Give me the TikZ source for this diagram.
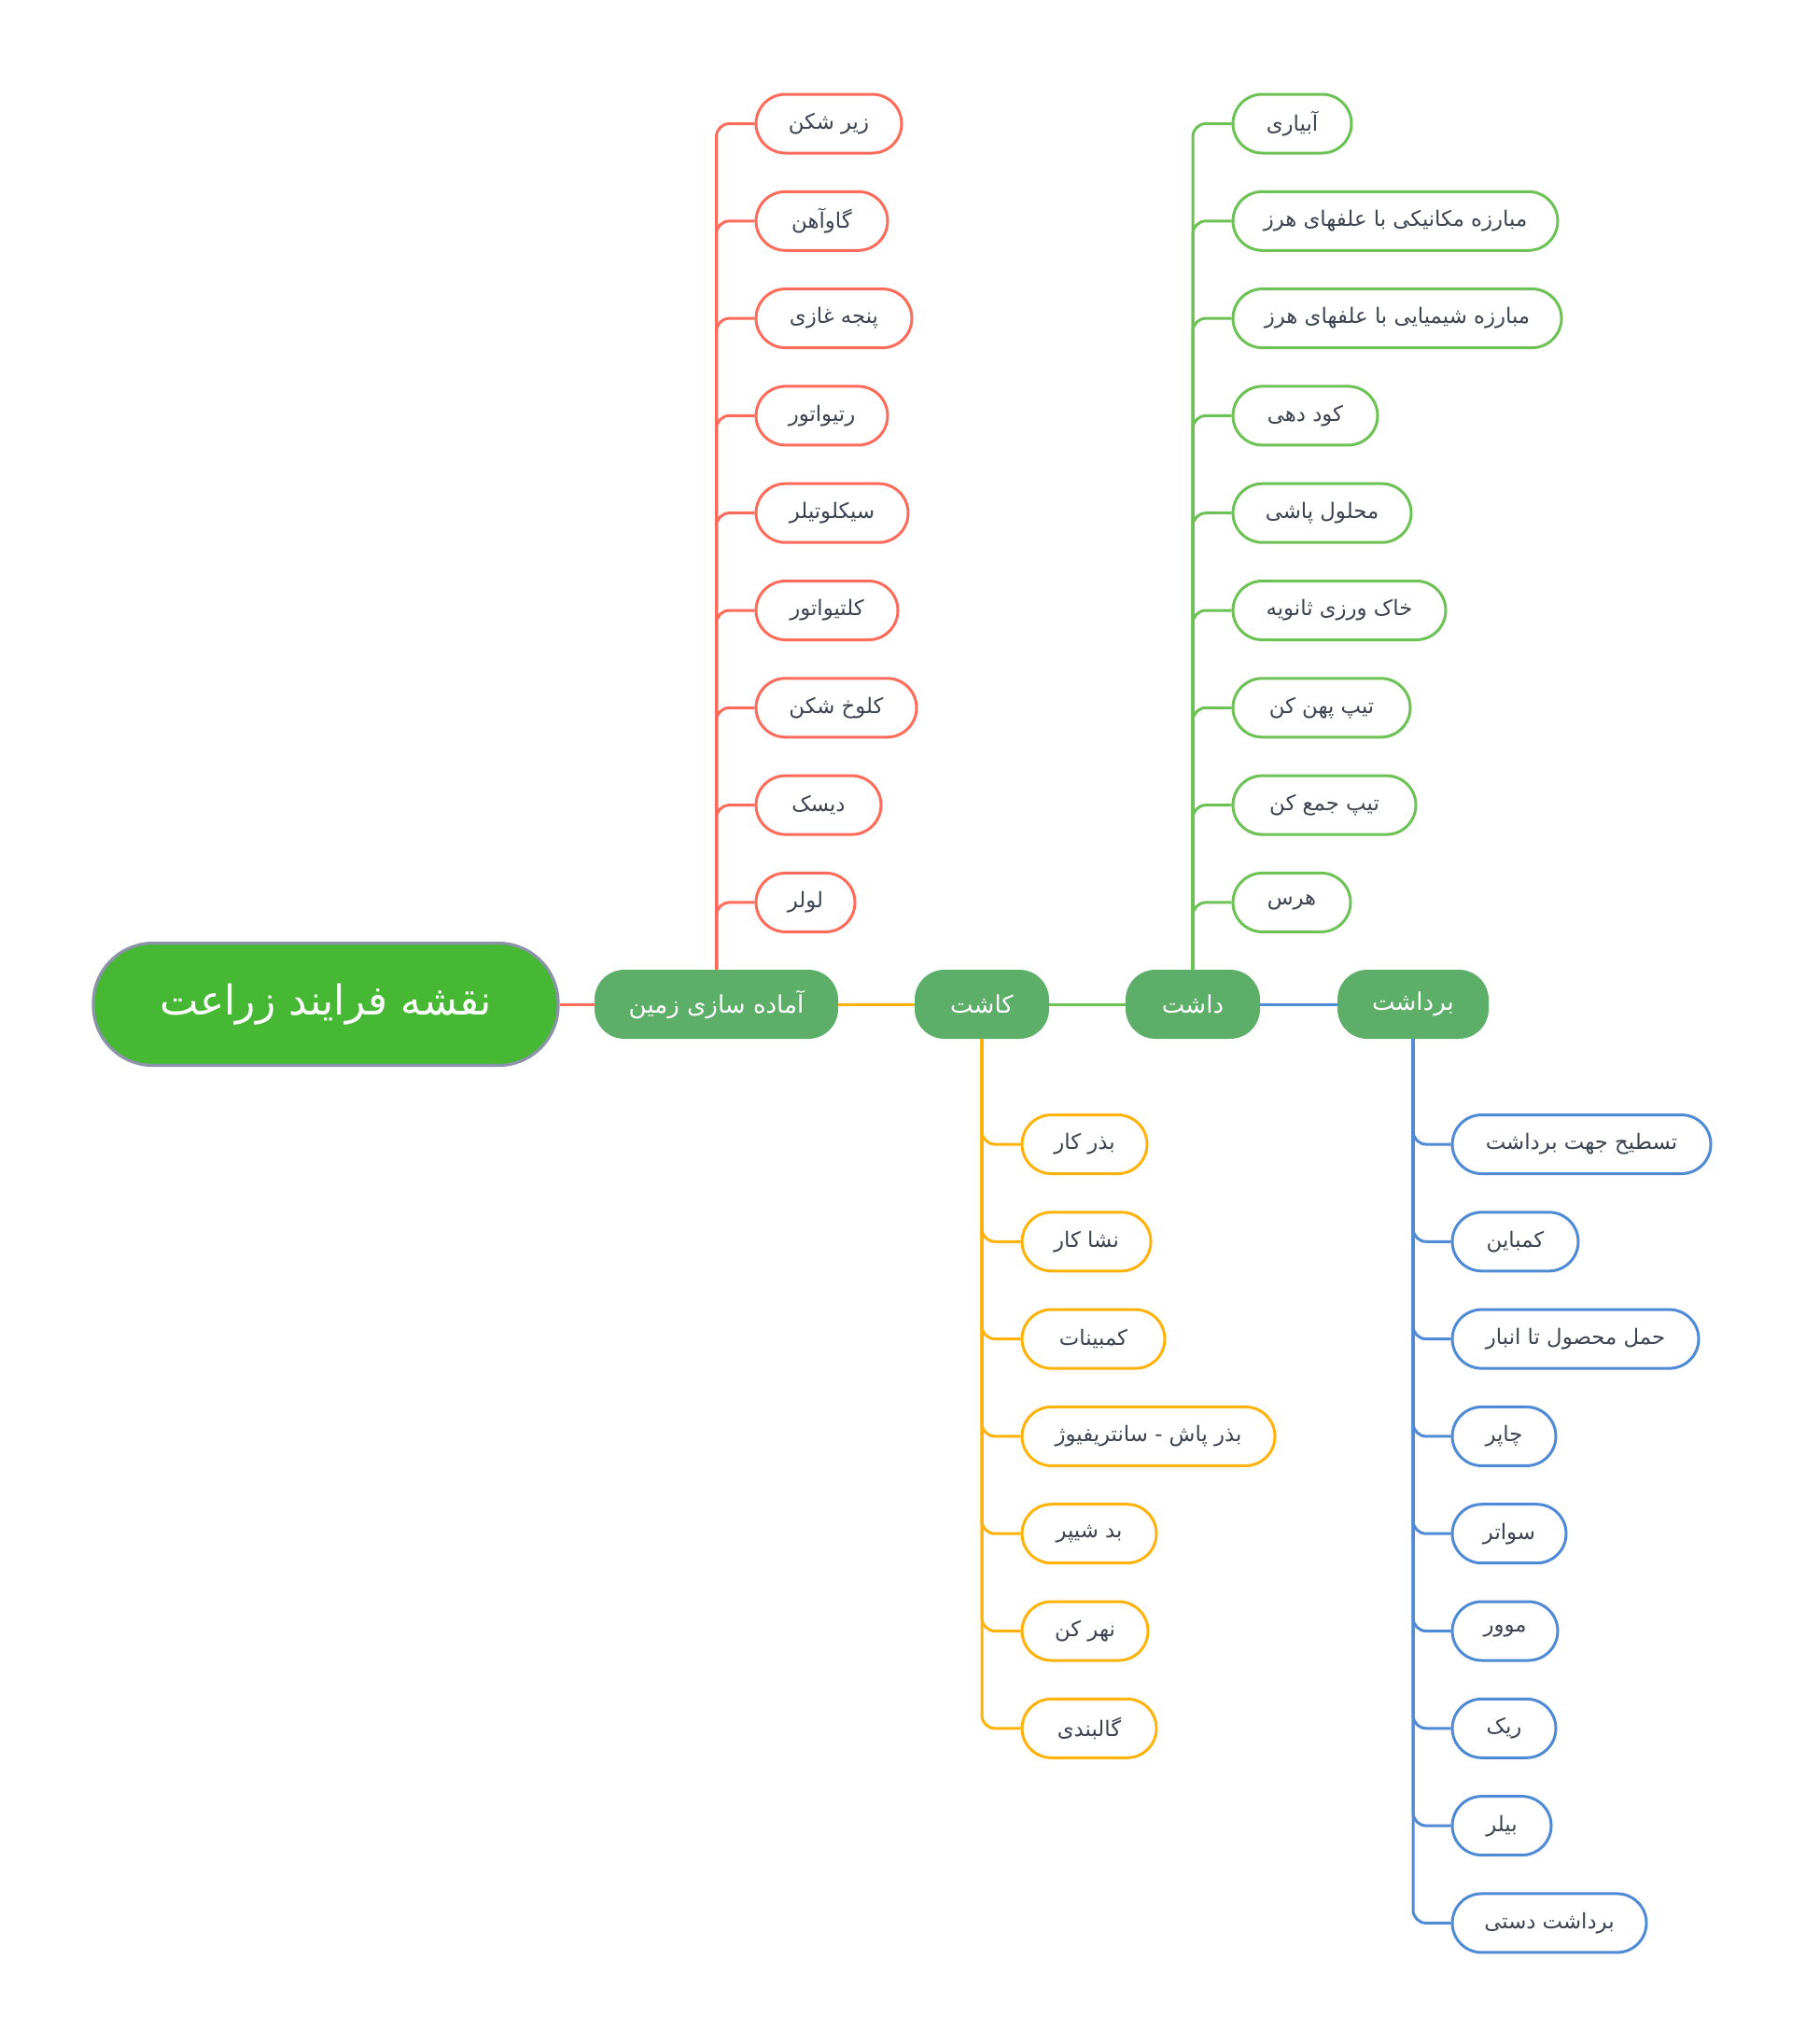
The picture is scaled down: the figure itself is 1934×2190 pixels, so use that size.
\documentclass[tikz,border=0pt]{standalone}
\usepackage{fontspec}
\TeXXeTstate=1
\newfontfamily\arabicfont[Script=Arabic]{DejaVu Sans}
\newcommand\rtl[1]{\beginR #1\endR}
\definecolor{cRed}{RGB}{255,107,90}
\definecolor{cGreen}{RGB}{108,194,84}
\definecolor{cYellow}{RGB}{255,178,10}
\definecolor{cBlue}{RGB}{79,138,214}
\definecolor{cMain}{RGB}{92,174,104}
\definecolor{cRoot}{RGB}{70,184,51}
\definecolor{cRootEdge}{RGB}{138,147,168}
\definecolor{cText}{RGB}{61,68,81}
\begin{document}
\begin{tikzpicture}[x=0.5pt,y=-0.5pt,
  leaf/.style={draw, line width=1.5pt, fill=white, rounded corners=15.75pt,
    minimum height=31.5pt, inner sep=0pt, text=cText,
    font=\arabicfont\fontsize{11.4}{13}\selectfont},
  rleaf/.style={leaf, draw=cRed},
  gleaf/.style={leaf, draw=cGreen},
  yleaf/.style={leaf, draw=cYellow},
  bleaf/.style={leaf, draw=cBlue},
  mainbox/.style={fill=cMain, rounded corners=16pt, minimum height=37pt,
    inner sep=0pt, text=white, font=\arabicfont\fontsize{13}{15}\selectfont},
  rootbox/.style={fill=cRoot, draw=cRootEdge, line width=1.6pt, rounded corners=32pt,
    minimum height=65.5pt, minimum width=249pt, inner sep=0pt, text=white,
    font=\arabicfont\fontsize{22}{26}\selectfont},
  link/.style={line width=1.5pt},
  twig/.style={line width=1.5pt, rounded corners=7pt},
]
\useasboundingbox (0,0) rectangle (1934,2190);

% central spine
\node[rootbox] (root) at (349,1076) {\rtl{نقشه فرایند زراعت}};
\node[mainbox, minimum width=130.5pt] (prep) at (767.5,1076) {\rtl{آماده سازی زمین}};
\node[mainbox, minimum width=72pt] (plant) at (1052,1076) {\rtl{کاشت}};
\node[mainbox, minimum width=72pt] (care) at (1278,1076) {\rtl{داشت}};
\node[mainbox, minimum width=81pt] (harv) at (1514,1076) {\rtl{برداشت}};

\draw[link, cRed] (root.east) -- (prep.west);
\draw[link, cYellow] (prep.east) -- (plant.west);
\draw[link, cGreen] (plant.east) -- (care.west);
\draw[link, cBlue] (care.east) -- (harv.west);

% land preparation
\node[rleaf, minimum width=78pt]   (r1) at (888,132.5)   {\rtl{زیر شکن}};
\node[rleaf, minimum width=70.5pt] (r2) at (880.5,236.8) {\rtl{گاوآهن}};
\node[rleaf, minimum width=83.5pt] (r3) at (893.5,341.1) {\rtl{پنجه غازی}};
\node[rleaf, minimum width=70.5pt] (r4) at (880.5,445.4) {\rtl{رتیواتور}};
\node[rleaf, minimum width=81.5pt] (r5) at (891.5,549.7) {\rtl{سیکلوتیلر}};
\node[rleaf, minimum width=76pt]   (r6) at (886,654)     {\rtl{کلتیواتور}};
\node[rleaf, minimum width=86pt]   (r7) at (896,758.3)   {\rtl{کلوخ شکن}};
\node[rleaf, minimum width=67pt]   (r8) at (877,862.6)   {\rtl{دیسک}};
\node[rleaf, minimum width=53pt]   (r9) at (863,966.9)   {\rtl{لولر}};
\foreach \n in {r1,r2,r3,r4,r5,r6,r7,r8,r9}
  \draw[twig, cRed] (prep.north) |- (\n.west);

% crop care
\node[gleaf, minimum width=63.5pt] (g1) at (1384.5,132.5) {\rtl{آبیاری}};
\node[gleaf, minimum width=174pt]  (g2) at (1495,236.8)   {\rtl{مبارزه مکانیکی با علفهای هرز}};
\node[gleaf, minimum width=176pt]  (g3) at (1497,341.1)   {\rtl{مبارزه شیمیایی با علفهای هرز}};
\node[gleaf, minimum width=77.5pt] (g4) at (1398.5,445.4) {\rtl{کود دهی}};
\node[gleaf, minimum width=95.5pt] (g5) at (1416.5,549.7) {\rtl{محلول پاشی}};
\node[gleaf, minimum width=114pt]  (g6) at (1435,654)     {\rtl{خاک ورزی ثانویه}};
\node[gleaf, minimum width=95pt]   (g7) at (1416,758.3)   {\rtl{تیپ پهن کن}};
\node[gleaf, minimum width=98pt]   (g8) at (1419,862.6)   {\rtl{تیپ جمع کن}};
\node[gleaf, minimum width=63pt]   (g9) at (1384,966.9)   {\rtl{هرس}};
\foreach \n in {g1,g2,g3,g4,g5,g6,g7,g8,g9}
  \draw[twig, cGreen] (care.north) |- (\n.west);

% planting
\node[yleaf, minimum width=67pt]   (y1) at (1162,1226)   {\rtl{بذر کار}};
\node[yleaf, minimum width=69pt]   (y2) at (1164,1330.3) {\rtl{نشا کار}};
\node[yleaf, minimum width=76.5pt] (y3) at (1171.5,1434.6) {\rtl{کمبینات}};
\node[yleaf, minimum width=135.5pt] (y4) at (1230.5,1538.9) {\rtl{بذر پاش - سانتریفیوژ}};
\node[yleaf, minimum width=72pt]   (y5) at (1167,1643.2) {\rtl{بد شیپر}};
\node[yleaf, minimum width=67.5pt] (y6) at (1162.5,1747.5) {\rtl{نهر کن}};
\node[yleaf, minimum width=72pt]   (y7) at (1167,1851.8) {\rtl{گالبندی}};
\foreach \n in {y1,y2,y3,y4,y5,y6,y7}
  \draw[twig, cYellow] (plant.south) |- (\n.west);

% harvest
\node[bleaf, minimum width=138.5pt] (b1) at (1694.5,1226)   {\rtl{تسطیح جهت برداشت}};
\node[bleaf, minimum width=67.5pt]  (b2) at (1623.5,1330.3) {\rtl{کمباین}};
\node[bleaf, minimum width=132pt]   (b3) at (1688,1434.6)   {\rtl{حمل محصول تا انبار}};
\node[bleaf, minimum width=55.5pt]  (b4) at (1611.5,1538.9) {\rtl{چاپر}};
\node[bleaf, minimum width=61pt]    (b5) at (1617,1643.2)   {\rtl{سواتر}};
\node[bleaf, minimum width=56.5pt]  (b6) at (1612.5,1747.5) {\rtl{موور}};
\node[bleaf, minimum width=55.5pt]  (b7) at (1611.5,1851.8) {\rtl{ریک}};
\node[bleaf, minimum width=53pt]    (b8) at (1609,1956.1)   {\rtl{بیلر}};
\node[bleaf, minimum width=104pt]   (b9) at (1660,2060.4)   {\rtl{برداشت دستی}};
\foreach \n in {b1,b2,b3,b4,b5,b6,b7,b8,b9}
  \draw[twig, cBlue] (harv.south) |- (\n.west);
\end{tikzpicture}
\end{document}
